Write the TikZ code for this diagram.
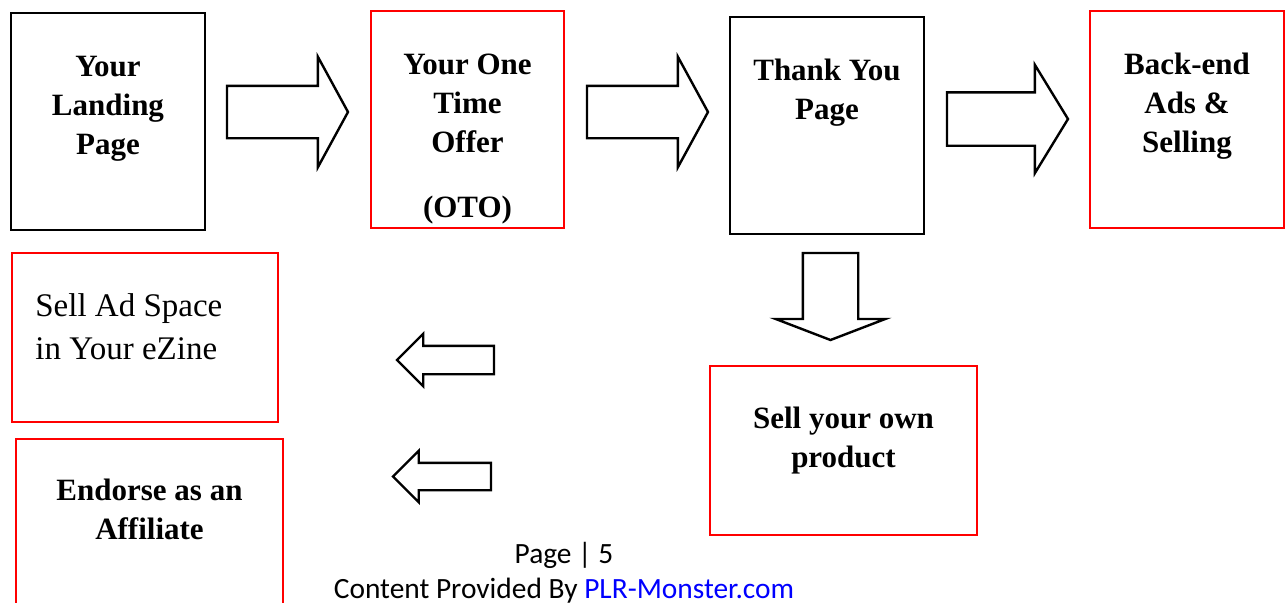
\documentclass[tikz,border=0pt]{standalone}
\usepackage{fontspec}
\setmainfont{Liberation Serif}
\newfontfamily\footfont{Carlito}
\usetikzlibrary{shapes.arrows,positioning}
\tikzset{
    boxsty/.style={draw,rectangle,inner sep=0pt,outer sep=0pt,anchor=north west},
    blksty/.style={boxsty,draw=black,line width=1.4pt},
    redsty/.style={boxsty,draw=red,line width=1.1pt},
    bftsty/.style={align=center,inner sep=0pt,anchor=north,font=\bfseries\fontsize{15.5}{19.5}\selectfont},
    rmtsty/.style={align=left,inner sep=0pt,anchor=north west,font=\fontsize{16.5}{21.5}\selectfont},
    arrsty/.style={draw,line width=1.2pt,single arrow,single arrow head indent=0pt,inner xsep=0pt,outer sep=0pt,minimum width=0pt,anchor=tail},
    footsty/.style={inner sep=0pt,anchor=base,font=\footfont\fontsize{14.7}{17}\selectfont},
}
\begin{document}
\begin{tikzpicture}[x=0.5pt,y=-0.5pt]
  \useasboundingbox (0,0) rectangle (1287,602);
  \clip (0,0) rectangle (1287,602);

  % top row
  \node[blksty,minimum width=97pt,minimum height=108.5pt] (land) at (11,13) {};
  \node[redsty,minimum width=96.5pt,minimum height=108.5pt] (oto) at (371,11) {};
  \node[blksty,minimum width=97pt,minimum height=108.5pt] (thanks) at (730,17) {};
  \node[redsty,minimum width=97pt,minimum height=108.5pt] (backend) at (1090,11) {};

  \node[bftsty] (landtxt) at (108,56) {Your\\Landing\\Page};
  \node[bftsty] (ototxt) at (467.5,54) {Your One\\Time\\Offer\\[13pt](OTO)};
  \node[bftsty] (thankstxt) at (827,59) {Thank You\\Page};
  \node[bftsty] (backendtxt) at (1187,53) {Back-end\\Ads \&\\Selling};

  \node[arrsty,minimum height=60.5pt,inner ysep=12.5pt,single arrow head extend=14.5pt,single arrow tip angle=122.8] (a1) at (227,112) {};
  \node[arrsty,minimum height=60.5pt,inner ysep=12.5pt,single arrow head extend=14.5pt,single arrow tip angle=122.8] (a2) at (587,112) {};
  \node[arrsty,minimum height=60.5pt,inner ysep=12.75pt,single arrow head extend=13.75pt,single arrow tip angle=117.1] (a3) at (947,119) {};

  % lower part
  \node[arrsty,rotate=-90,minimum height=43.5pt,inner ysep=13.25pt,single arrow head extend=13.5pt,single arrow tip angle=138] (adown) at (830.5,253) {};
  \node[redsty,minimum width=133.5pt,minimum height=84.5pt] (ownprod) at (710,366) {};
  \node[bftsty] (ownprodtxt) at (843.5,407) {Sell your own\\product};

  \node[redsty,minimum width=133pt,minimum height=84.5pt] (adspace) at (12,253) {};
  \node[rmtsty] (adspacetxt) at (35,293) {Sell Ad Space\\in Your eZine};
  \node[redsty,minimum width=133.5pt,minimum height=100pt] (affil) at (16,439) {};
  \node[bftsty] (affiltxt) at (149.5,479) {Endorse as an\\Affiliate};

  \node[arrsty,rotate=180,minimum height=48.5pt,inner ysep=6.5pt,single arrow head extend=6pt,single arrow tip angle=90] (aleft1) at (494,360) {};
  \node[arrsty,rotate=180,minimum height=49pt,inner ysep=6.25pt,single arrow head extend=6pt,single arrow tip angle=90] (aleft2) at (491,476.5) {};

  % footer
  \node[footsty] (pagenum) at (564,563) {Page | 5};
  \node[footsty] (credit) at (564,598) {Content Provided By \textcolor{blue}{PLR-Monster.com}};
\end{tikzpicture}
\end{document}
